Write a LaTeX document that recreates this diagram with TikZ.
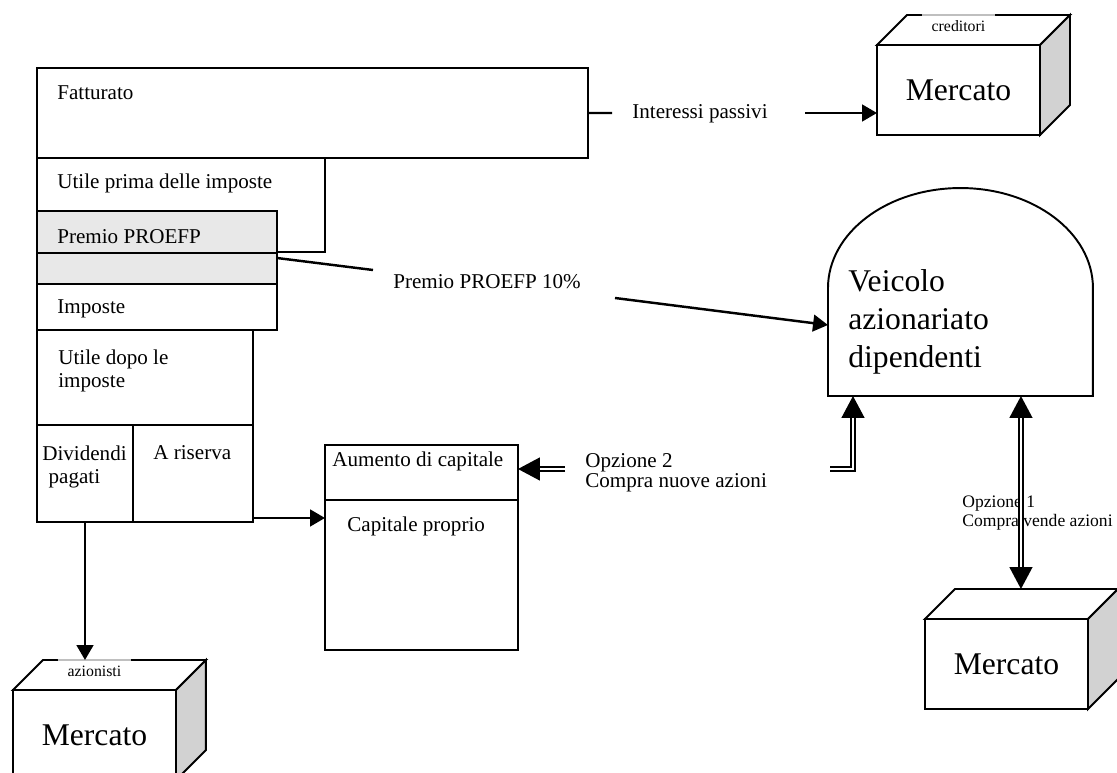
\documentclass[tikz,border=0pt]{standalone}
\usepackage{fontspec}
\setmainfont{Liberation Serif}
\usetikzlibrary{arrows.meta,calc}

\begin{document}
\begin{tikzpicture}[x=0.02cm,y=-0.02cm,
    box/.style = {draw, line width=1.1pt, fill=white, inner sep=0pt, outer sep=0pt, anchor=north west},
    shaded/.style = {box, fill=gray!18},
    txt/.style = {inner sep=0pt, align=left, font=\fontsize{12}{13.1}\selectfont},
    big/.style = {font=\fontsize{18}{21.6}\selectfont},
    tiny/.style = {inner sep=0pt, font=\fontsize{9}{10}\selectfont},
    cube/.style = {box, fill=white, minimum width=3.26cm, minimum height=1.8cm, big},
    arr/.style = {line width=1.4pt, -{Triangle[length=8.5pt,width=9.5pt]}},
    dbl/.style = {line width=1.1pt, double=white, double distance=1.2pt},
    dbla/.style = {dbl, -{Triangle[length=12.5pt,width=13pt]}},
    dblb/.style = {dbl, {Triangle[length=12.5pt,width=13pt]}-{Triangle[length=12.5pt,width=13pt]}}]
    \useasboundingbox (0,0) rectangle (1117,773);

    % conto economico
    \node[box, minimum width=11.02cm, minimum height=1.8cm] (fatt) at (37,68) {};
    \node[box, minimum width=5.76cm, minimum height=1.88cm] (upi) at (37,158) {};
    \node[shaded, minimum width=4.8cm, minimum height=0.84cm] (prem1) at (37,211) {};
    \node[shaded, minimum width=4.8cm, minimum height=0.62cm] (prem2) at (37,253) {};
    \node[box, minimum width=4.8cm, minimum height=0.92cm] (imp) at (37,284) {};
    \node[box, minimum width=4.32cm, minimum height=1.9cm] (udi) at (37,330) {};
    \node[box, minimum width=1.92cm, minimum height=1.94cm] (div) at (37,425) {};
    \node[box, minimum width=2.4cm, minimum height=1.94cm] (ris) at (133,425) {};

    \node[txt, anchor=base west] (tfatt) at (57,100) {Fatturato};
    \node[txt, anchor=base west] (tupi) at (57,189) {Utile prima delle imposte};
    \node[txt, anchor=base west] (tprem) at (57,244) {Premio PROEFP};
    \node[txt, anchor=base west] (timp) at (57,314) {Imposte};
    \node[txt, anchor=north west] (tudi) at (58,350) {Utile dopo le\\imposte};
    \node[txt, anchor=north west] (tdiv) at (42,446) {Dividendi\\\hspace{0.3em}pagati};
    \node[txt, anchor=base west] (tris) at (153,460) {A riserva};

    % capitale
    \node[box, minimum width=3.86cm, minimum height=1.1cm] (aum) at (325,445) {};
    \node[box, minimum width=3.86cm, minimum height=3cm] (cap) at (325,500) {};
    \node[txt, anchor=base west] (taum) at (332,467) {Aumento di capitale};
    \node[txt, anchor=base west] (tcap) at (347,532) {Capitale proprio};

    % veicolo
    \node[minimum width=5.3cm, minimum height=2.16cm, inner sep=0pt, outer sep=0pt, anchor=south west] (veic) at (828,396) {};
    \draw[line width=1.1pt] (veic.south west) -- (veic.north west)
        arc[start angle=180, end angle=0, x radius=2.65cm, y radius=2cm] -- (veic.south east) -- cycle;
    \node[txt, big, anchor=north west] (tveic) at (848,269) {Veicolo\\azionariato\\dipendenti};

    % mercati
    \node[cube] (mktc) at (877,45) {Mercato};
    \node[cube] (mkts) at (13,690) {Mercato};
    \node[cube] (mktr) at (925,619) {Mercato};
    \foreach \m in {mktc,mkts,mktr} {
        \draw[line width=1.1pt, fill=white] (\m.north west) -- ++(0.6cm,0.6cm)
            -- ($(\m.north east)+(0.6cm,0.6cm)$) -- (\m.north east) -- cycle;
        \draw[line width=1.1pt, fill=gray!35] (\m.north east) -- ++(0.6cm,0.6cm)
            -- ($(\m.south east)+(0.6cm,0.6cm)$) -- (\m.south east) -- cycle;
        \coordinate (\m-top) at ($(\m.north west)+(0.6cm,0.6cm)$);
    }
    \node[tiny, fill=white, minimum width=1.46cm, minimum height=0.44cm, anchor=north] (lcred) at ([yshift=0.6cm]mktc.north) {creditori};
    \node[tiny, fill=white, minimum width=1.46cm, minimum height=0.44cm, anchor=north] (lazio) at ([yshift=0.6cm]mkts.north) {azionisti};
    \draw[gray!50, line width=0.6pt] (lcred.north west) -- (lcred.north east);
    \draw[gray!50, line width=0.6pt] (lazio.north west) -- (lazio.north east);

    % flussi
    \node[txt, anchor=base west] (lint) at (632,119) {Interessi passivi};
    \coordinate (int1) at (612,113);
    \coordinate (int2) at (805,113);
    \draw[line width=1.4pt] (fatt.east) -- (int1);
    \draw[arr] (int2) -- (int2 -| mktc.west);

    \node[txt, anchor=base west] (lprem) at (393,289) {Premio PROEFP 10\%};
    \coordinate (pr1) at (373,270);
    \coordinate (pr2) at (615,298);
    \draw[line width=1.4pt] ([yshift=-0.1cm]prem2.north east) -- (pr1);
    \draw[arr] (pr2) -- ([yshift=0.34cm]veic.west);

    \node[txt, anchor=north west, font=\fontsize{12}{11.5}\selectfont] (lopz2) at (585,453) {Opzione 2\\Compra nuove azioni};
    \coordinate (op2a) at (565,469);
    \coordinate (op2b) at (830,469);
    \draw[dbla] (op2a) -- (op2a -| aum.east);
    \draw[dbla] (op2b) -| ([xshift=0.5cm]veic.south west);

    \node[txt, anchor=north west, font=\fontsize{10}{10.8}\selectfont] (lopz1) at (962,496) {Opzione 1\\Compra vende azioni};
    \draw[dblb] ([xshift=1.21cm]veic.south) -- ([xshift=1.21cm]veic.south |- mktr-top);

    \coordinate (rs) at ([yshift=0.08cm]ris.south east);
    \draw[arr] (rs) -- (rs -| cap.west);
    \draw[arr] (div.south) -- (div.south |- mkts-top);
\end{tikzpicture}
\end{document}
